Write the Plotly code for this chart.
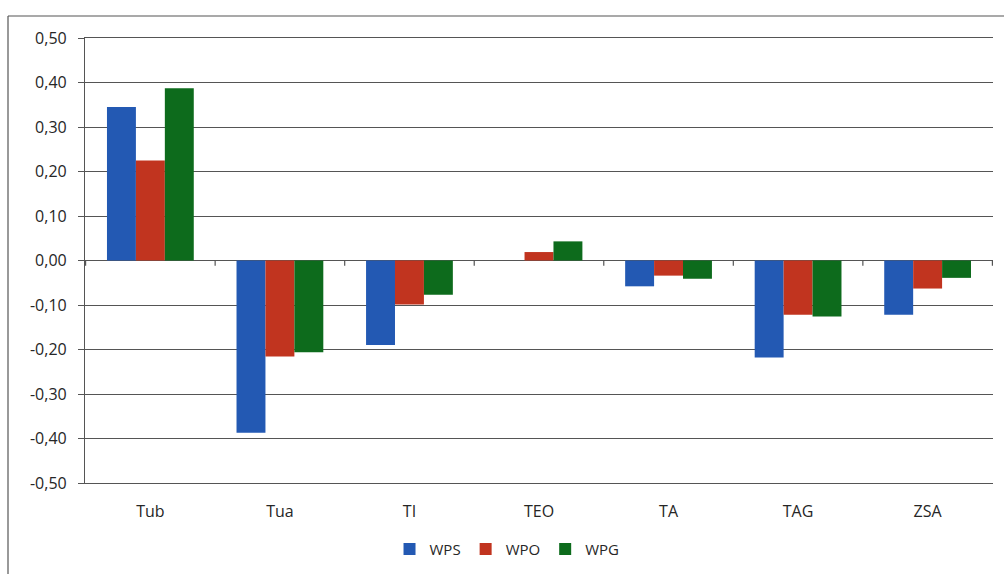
import plotly.graph_objects as go

categories = ["Tub", "Tua", "TI", "TEO", "TA", "TAG", "ZSA"]
wps = [0.345, -0.387, -0.190, 0.0, -0.058, -0.218, -0.122]
wpo = [0.225, -0.216, -0.099, 0.019, -0.034, -0.122, -0.063]
wpg = [0.387, -0.206, -0.077, 0.043, -0.041, -0.126, -0.039]
y_ticks = [0.5, 0.4, 0.3, 0.2, 0.1, 0.0, -0.1, -0.2, -0.3, -0.4, -0.5]
y_tick_labels = ["0,50", "0,40", "0,30", "0,20", "0,10", "0,00", "-0,10", "-0,20", "-0,30", "-0,40", "-0,50"]

colors = {"WPS": "#2359b3", "WPO": "#c1341f", "WPG": "#0d6b1c"}

fig = go.Figure()
for name, vals in [("WPS", wps), ("WPO", wpo), ("WPG", wpg)]:
    fig.add_trace(go.Bar(x=categories, y=vals, name=name, marker_color=colors[name],
                         marker_line_width=0))

border = dict(color="#555555", width=1.2)
shapes = [
    dict(type="line", xref="paper", yref="paper", x0=-0.0848, x1=1.02, y0=1.0494, y1=1.0494, line=border),
    dict(type="line", xref="paper", yref="paper", x0=-0.0848, x1=-0.0848, y0=1.0494, y1=-0.21, line=border),
]
for i in range(len(categories) + 1):
    shapes.append(dict(type="line", xref="x", yref="y", x0=i - 0.5, x1=i - 0.5, y0=0, y1=-0.012,
                       line=dict(color="#555555", width=1.2)))

fig.update_layout(
    width=1004, height=574,
    margin=dict(l=85, r=11, t=38, b=91, autoexpand=False),
    paper_bgcolor="white", plot_bgcolor="white",
    barmode="group", bargap=0.33, bargroupgap=0,
    font=dict(family="Open Sans, Liberation Sans, sans-serif", size=16, color="#262626"),
    legend=dict(orientation="h", xref="container", yref="container", x=0.505, xanchor="center",
                y=0.043, yanchor="middle", bgcolor="rgba(0,0,0,0)",
                font=dict(size=15), itemwidth=30, traceorder="normal"),
    shapes=shapes,
)
fig.update_xaxes(showgrid=False, showline=True, mirror=True, linecolor="#555555", linewidth=1.2,
                 ticks="", tickfont=dict(size=16), automargin=False, ticklabelstandoff=14)
fig.update_yaxes(range=[-0.5, 0.5], tickvals=y_ticks, ticktext=y_tick_labels,
                 showgrid=True, gridcolor="#555555", gridwidth=1.2,
                 zeroline=True, zerolinecolor="#555555", zerolinewidth=1.2,
                 showline=True, linecolor="#555555", linewidth=1.2, automargin=False,
                 ticks="outside", ticklen=6, tickcolor="#555555", tickfont=dict(size=16),
                 ticklabelstandoff=8)

fig.write_html("out.html", config={"displayModeBar": False},
               post_script="document.body.style.margin='0';document.body.style.overflow='hidden';")
